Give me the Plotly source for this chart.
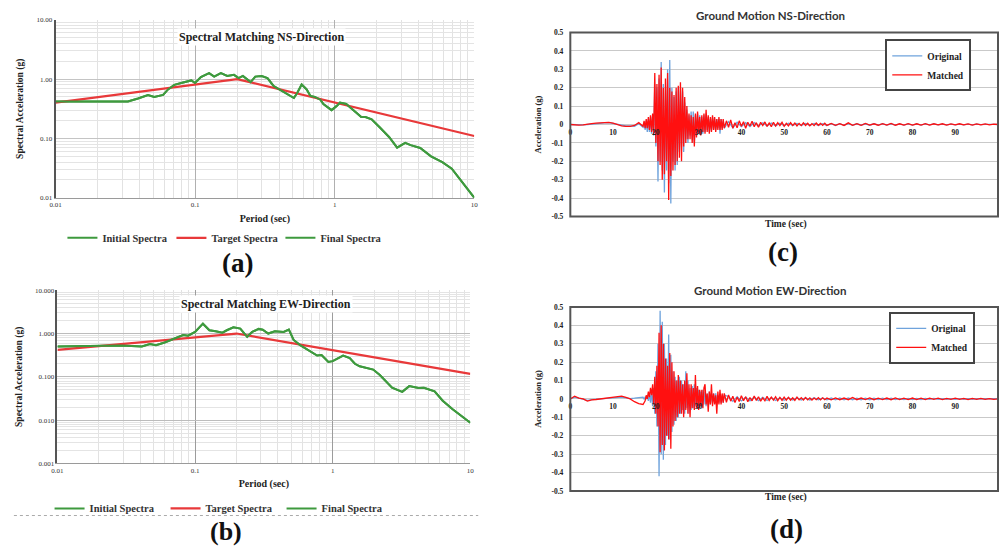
import numpy as np
import plotly.graph_objects as go

# ---------------- data: response spectra ----------------
NS_PERIOD = [0.01, 0.0215, 0.028, 0.033, 0.039, 0.046, 0.051, 0.059, 0.064, 0.071, 0.0795, 0.094, 0.1,
             0.11, 0.126, 0.137, 0.153, 0.17, 0.19, 0.205, 0.22, 0.25, 0.27, 0.30, 0.33, 0.366, 0.41,
             0.45, 0.51, 0.54, 0.58, 0.63, 0.67, 0.72, 0.79, 0.83, 0.95, 1.03, 1.09, 1.21, 1.33, 1.55,
             1.66, 1.84, 2.1, 2.46, 2.8, 3.2, 3.5, 4.1, 4.9, 5.9, 6.9, 8.2, 10.0]
NS_FINAL = [0.42, 0.42, 0.43, 0.42, 0.47, 0.54, 0.50, 0.54, 0.67, 0.80, 0.86, 0.95, 0.86,
            1.08, 1.26, 1.10, 1.26, 1.13, 1.18, 1.04, 1.13, 0.89, 1.10, 1.13, 1.04, 0.76, 0.65,
            0.57, 0.48, 0.59, 0.81, 0.67, 0.52, 0.50, 0.45, 0.38, 0.30, 0.35, 0.40, 0.38, 0.31, 0.23,
            0.23, 0.21, 0.154, 0.105, 0.070, 0.084, 0.077, 0.069, 0.050, 0.040, 0.031, 0.018, 0.010]
NS_TARGET_PERIOD = [0.01, 0.2, 10.0]
NS_TARGET = [0.40, 1.0, 0.11]

EW_PERIOD = [0.01, 0.0169, 0.0223, 0.029, 0.041, 0.047, 0.052, 0.060, 0.071, 0.082, 0.089, 0.1,
             0.114, 0.127, 0.141, 0.158, 0.17, 0.19, 0.213, 0.239, 0.26, 0.29, 0.31, 0.34, 0.38,
             0.44, 0.48, 0.52, 0.58, 0.63, 0.68, 0.77, 0.83, 0.93, 1.0, 1.09, 1.19, 1.33, 1.45,
             1.57, 1.75, 1.97, 2.2, 2.7, 3.2, 3.6, 4.2, 4.6, 5.5, 6.3, 7.4, 10.0]
EW_FINAL = [0.50, 0.52, 0.54, 0.53, 0.50, 0.57, 0.54, 0.62, 0.77, 0.92, 0.89, 1.09,
            1.69, 1.19, 1.13, 1.05, 1.19, 1.39, 1.30, 0.84, 1.09, 1.28, 1.23, 1.00, 1.13,
            1.09, 1.23, 0.71, 0.54, 0.46, 0.40, 0.31, 0.32, 0.22, 0.23, 0.27, 0.31, 0.27, 0.20,
            0.175, 0.16, 0.147, 0.11, 0.056, 0.045, 0.061, 0.055, 0.056, 0.046, 0.028, 0.018, 0.0087]
EW_TARGET_PERIOD = [0.01, 0.2, 10.0]
EW_TARGET = [0.42, 1.0, 0.117]

# ---------------- data: ground motion time histories ----------------
# Each record is sampled in segments: A = 0..17 s every 1 s, B = 17.25..36 s every 0.25 s,
# then the coda: matched records 36.5..60 s every 0.5 s and 61..100 s every 1 s,
# original records 37..100 s every 1 s.
NS_MATCHED_A = [0, -0.003, -0.003, -0.002, 0, 0.005, 0.008, 0.010, 0.010, 0.012, 0.008, 0,
                -0.008, -0.010, -0.010, -0.005, 0.010, -0.010]
NS_MATCHED_B = [0.02, -0.02, 0.03, -0.02, 0.04, -0.03, 0.05, -0.04, 0.06, -0.05,
                0.28, -0.10, 0.22, -0.20, 0.27, -0.22, 0.31, -0.30, 0.20, -0.27,
                0.25, -0.20, 0.28, -0.41, 0.20, -0.28, 0.18, -0.25, 0.16, -0.22,
                0.20, -0.20, 0.21, -0.18, 0.23, -0.20, 0.20, -0.12, 0.15, -0.10,
                0.10, -0.08, 0.06, -0.08, 0.05, -0.10, 0.04, -0.12, 0.06, -0.07,
                0.07, -0.05, 0.04, -0.06, 0.05, -0.04, 0.06, -0.05, 0.08, -0.04,
                0.05, -0.05, 0.04, -0.04, 0.05, -0.03, 0.04, -0.04, 0.03, -0.03,
                0.04, -0.03, 0.03, -0.03, 0.03, -0.02]
NS_MATCHED_C = [0.020, -0.015, 0.025, -0.020, 0.010, -0.018, 0.020, -0.010, 0.015, -0.020,
                0.012, -0.008, 0.018, -0.012, 0.010, -0.015, 0.012, -0.006, 0.014, -0.010,
                0.008, -0.012, 0.012, -0.008, 0.010, -0.006, 0.012, -0.010, 0.006, -0.008,
                0.010, -0.005, 0.008, -0.008, 0.006, -0.006, 0.009, -0.005, 0.007, -0.007,
                0.005, -0.006, 0.008, -0.004, 0.006, -0.005, 0.007, -0.005]
NS_MATCHED_D = [0.006, -0.004, 0.005, -0.005, 0.009, -0.004, 0.005, -0.004, 0.006, -0.003,
                0.004, -0.004, 0.005, -0.003, 0.006, -0.004, 0.004, -0.003, 0.005, -0.003,
                0.004, -0.003, 0.005, -0.003, 0.004, -0.002, 0.004, -0.003, 0.003, -0.002,
                0.004, -0.002, 0.003, -0.003, 0.003, -0.002, 0.003, -0.002, 0.002, 0]
NS_ORIGINAL_A = [0, -0.002, -0.003, -0.002, 0, 0.003, 0.006, 0.008, 0.009, 0.010, 0.006, -0.002,
                 -0.006, -0.008, -0.008, -0.010, 0.005, -0.015]
NS_ORIGINAL_B = [0.01, -0.03, 0.02, -0.04, 0.03, -0.04, 0.04, -0.05, 0.05, -0.06,
                 0.22, -0.12, 0.20, -0.31, 0.25, -0.20, 0.34, -0.25, 0.22, -0.37,
                 0.20, -0.25, 0.30, -0.32, 0.35, -0.43, 0.20, -0.20, 0.15, -0.25,
                 0.18, -0.22, 0.20, -0.15, 0.20, -0.12, 0.18, -0.15, 0.12, -0.08,
                 0.08, -0.10, 0.05, -0.06, 0.07, -0.08, 0.07, -0.10, 0.05, -0.06,
                 0.06, -0.05, 0.05, -0.04, 0.04, -0.05, 0.05, -0.04, 0.06, -0.03,
                 0.04, -0.04, 0.03, -0.03, 0.04, -0.03, 0.03, -0.03, 0.03, -0.02,
                 0.03, -0.05, 0.03, -0.02, 0.02, -0.02]
NS_ORIGINAL_C = [0.015, -0.018, 0.012, -0.012, 0.010, -0.011, 0.010, -0.009, 0.009, -0.008,
                 0.008, -0.008, 0.007, -0.007, 0.007, -0.006, 0.006, -0.006, 0.006, -0.006,
                 0.006, -0.005, 0.005, -0.005, 0.005, -0.005, 0.005, -0.004, 0.005, -0.004,
                 0.004, -0.004, 0.004, -0.004, 0.004, -0.003, 0.004, -0.003, 0.004, -0.003,
                 0.003, -0.003, 0.003, -0.003, 0.003, -0.003, 0.003, -0.002, 0.003, -0.002,
                 0.002, -0.002, 0.002, -0.002, 0.002, -0.002, 0.002, -0.002, 0.002, -0.001,
                 0.001, -0.001, 0.001, 0]

EW_MATCHED_A = [0, 0.015, 0.005, 0, -0.012, -0.005, -0.003, 0, 0.005, 0.010, 0.012, 0.015,
                0.015, 0.008, 0, -0.015, -0.025, -0.030]
EW_MATCHED_B = [-0.02, -0.01, 0.02, 0.00, 0.04, 0.01, 0.06, 0.02, 0.08, -0.03,
                0.12, -0.08, 0.18, -0.15, 0.36, -0.29, 0.40, -0.25, 0.30, -0.28,
                0.22, -0.20, 0.18, -0.22, 0.25, -0.27, 0.20, -0.15, 0.15, -0.12,
                0.10, -0.10, 0.13, -0.08, 0.10, -0.08, 0.08, -0.10, 0.10, -0.06,
                0.14, -0.08, 0.08, -0.10, 0.08, -0.05, 0.06, -0.06, 0.13, -0.05,
                0.07, -0.06, 0.05, -0.04, 0.05, -0.05, 0.06, 0.08, -0.03, 0.03,
                -0.07, 0.04, -0.03, 0.08, -0.04, 0.03, -0.03, 0.02, -0.08, 0.04,
                -0.03, 0.05, -0.03, 0.03, -0.02, 0.03]
EW_MATCHED_C = [-0.018, 0.022, -0.012, 0.015, -0.020, 0.010, -0.014, 0.018, -0.010, 0.012,
                -0.015, 0.008, -0.010, 0.016, -0.008, 0.012, -0.012, 0.006, -0.010, 0.014,
                -0.008, 0.010, -0.006, 0.012, -0.010, 0.008, -0.008, 0.010, -0.006, 0.009,
                -0.007, 0.006, -0.008, 0.010, -0.005, 0.007, -0.006, 0.008, -0.005, 0.006,
                -0.006, 0.005, -0.004, 0.007, -0.005, 0.006, -0.004, 0.005]
EW_MATCHED_D = [-0.005, 0.006, -0.004, 0.005, -0.004, 0.008, -0.004, 0.005, -0.003, 0.006,
                -0.004, 0.004, -0.003, 0.005, -0.004, 0.006, -0.003, 0.004, -0.003, 0.005,
                -0.003, 0.004, -0.003, 0.004, -0.002, 0.004, -0.003, 0.003, -0.002, 0.004,
                -0.002, 0.003, -0.003, 0.003, -0.002, 0.003, -0.002, 0.002, -0.002, 0]
EW_ORIGINAL_A = [0, 0.010, 0.004, 0, -0.008, -0.004, -0.002, 0, 0.003, 0.006, 0.008, 0.010,
                 0.010, 0.006, 0.002, 0.004, 0.008, 0.010]
EW_ORIGINAL_B = [0.00, 0.01, 0.00, 0.02, -0.01, 0.03, -0.02, 0.04, -0.04, 0.06,
                 -0.08, 0.15, -0.15, 0.30, -0.42, 0.48, -0.30, 0.42, -0.33, 0.30,
                 -0.25, 0.22, -0.20, 0.35, -0.22, 0.24, -0.18, 0.15, -0.14, 0.12,
                 -0.12, 0.10, -0.10, 0.12, -0.08, 0.10, -0.06, 0.08, -0.08, 0.15,
                 -0.05, 0.10, -0.08, 0.06, -0.06, 0.07, -0.05, 0.08, -0.04, 0.06,
                 -0.05, 0.05, -0.05, 0.04, -0.04, 0.05, -0.03, 0.04, -0.04, 0.03,
                 -0.03, 0.04, -0.03, 0.03, -0.02, 0.03, -0.02, 0.03, -0.02, 0.02,
                 -0.02, 0.02, -0.02, 0.02, -0.02, 0.02]
EW_ORIGINAL_C = [0.014, -0.013, 0.012, -0.011, 0.010, -0.010, 0.010, -0.009, 0.009, -0.008,
                 0.008, -0.008, 0.007, -0.007, 0.007, -0.006, 0.006, -0.006, 0.006, -0.006,
                 0.006, -0.005, 0.005, -0.005, 0.005, -0.005, 0.005, -0.004, 0.005, -0.004,
                 0.004, -0.004, 0.004, -0.004, 0.004, -0.003, 0.004, -0.003, 0.004, -0.003,
                 0.003, -0.003, 0.003, -0.003, 0.003, -0.003, 0.003, -0.002, 0.003, -0.002,
                 0.002, -0.002, 0.002, -0.002, 0.002, -0.002, 0.002, -0.002, 0.002, -0.001,
                 0.001, -0.001, 0.001, 0]

SPEC_XTICKS = [0.01, 0.1, 1, 10]
SPEC_XTICKTEXT = ["0.01", "0.1", "1", "10"]
NS_YTICKS = [0.01, 0.1, 1, 10]
NS_YTICKTEXT = ["0.01", "0.10", "1.00", "10.00"]
EW_YTICKS = [0.001, 0.01, 0.1, 1, 10]
EW_YTICKTEXT = ["0.001", "0.010", "0.100", "1.000", "10.000"]
ACC_TICKS = [0.5, 0.4, 0.3, 0.2, 0.1, 0, -0.1, -0.2, -0.3, -0.4, -0.5]
ACC_TICKTEXT = ["0.5", "0.4", "0.3", "0.2", "0.1", "0", "-0.1", "-0.2", "-0.3", "-0.4", "-0.5"]
TIME_TICKS = [0, 10, 20, 30, 40, 50, 60, 70, 80, 90, 100]


def build_series(segments):
    """segments: list of (start time, sampling step, values)"""
    ts, vs = [], []
    for start, step, vals in segments:
        ts += [start + step * i for i in range(len(vals))]
        vs += list(vals)
    return ts, vs


def minor_vals(lo_exp, hi_exp):
    vals = []
    for e in range(lo_exp, hi_exp):
        for m in range(2, 10):
            vals.append(m * 10.0 ** e)
    return vals


W, H = 1002, 552
def px(x):
    return x / W
def py(y):
    return 1 - y / H

SERIF = "Liberation Serif, Times New Roman, serif"
SANS = "Lato, Open Sans, sans-serif"
GREEN = "#3e9a3e"
TRED = "#e8393a"
BLUE = "#6fa3dc"
RED = "#ff1010"

fig = go.Figure()

# ---- spectra traces ----
for (per, fin, tper, targ, xa, ya, lg) in [
    (NS_PERIOD, NS_FINAL, NS_TARGET_PERIOD, NS_TARGET, "x", "y", "legend"),
    (EW_PERIOD, EW_FINAL, EW_TARGET_PERIOD, EW_TARGET, "x2", "y2", "legend2"),
]:
    fig.add_trace(go.Scatter(x=per, y=fin, mode="lines", name="Initial Spectra",
                             line=dict(color=GREEN, width=2), xaxis=xa, yaxis=ya, legend=lg))
    fig.add_trace(go.Scatter(x=tper, y=targ, mode="lines", name="Target Spectra",
                             line=dict(color=TRED, width=2.2), xaxis=xa, yaxis=ya, legend=lg))
    fig.add_trace(go.Scatter(x=per, y=fin, mode="lines", name="Final Spectra",
                             line=dict(color=GREEN, width=2), xaxis=xa, yaxis=ya, legend=lg))

# ---- time history traces ----
records = [
    ([(0, 1, NS_ORIGINAL_A), (17.25, 0.25, NS_ORIGINAL_B), (37, 1, NS_ORIGINAL_C)],
     [(0, 1, NS_MATCHED_A), (17.25, 0.25, NS_MATCHED_B), (36.5, 0.5, NS_MATCHED_C), (61, 1, NS_MATCHED_D)],
     "x3", "y3", "legend3"),
    ([(0, 1, EW_ORIGINAL_A), (17.25, 0.25, EW_ORIGINAL_B), (37, 1, EW_ORIGINAL_C)],
     [(0, 1, EW_MATCHED_A), (17.25, 0.25, EW_MATCHED_B), (36.5, 0.5, EW_MATCHED_C), (61, 1, EW_MATCHED_D)],
     "x4", "y4", "legend4"),
]
for orig, match, xa, ya, lg in records:
    t, v = build_series(orig)
    fig.add_trace(go.Scatter(x=t, y=v, mode="lines", name="Original",
                             line=dict(color=BLUE, width=1.3), xaxis=xa, yaxis=ya, legend=lg))
    t, v = build_series(match)
    fig.add_trace(go.Scatter(x=t, y=v, mode="lines", name="Matched",
                             line=dict(color=RED, width=1.3), xaxis=xa, yaxis=ya, legend=lg))

tickfont_small = dict(family=SERIF, size=7, color="#333")
axtitle_font = dict(family=SERIF, size=10, color="#222", weight="bold")


def spec_x(domain, major_color):
    return dict(domain=domain, type="log", range=[-2, 1], tickvals=SPEC_XTICKS, ticktext=SPEC_XTICKTEXT,
                tickfont=tickfont_small, showgrid=True, gridcolor=major_color, gridwidth=1,
                minor=dict(tickvals=minor_vals(-2, 1), showgrid=True, gridcolor="#e2e2e2", gridwidth=1),
                showline=True, linecolor="#9a9a9a", linewidth=1, ticks="", zeroline=False,
                title=dict(text="Period (sec)", font=axtitle_font, standoff=6))


def spec_y(domain, lo, ticks, text, major_color):
    return dict(domain=domain, type="log", range=[lo, 1], tickvals=ticks, ticktext=text,
                tickfont=tickfont_small, showgrid=True, gridcolor=major_color, gridwidth=1,
                minor=dict(tickvals=minor_vals(lo, 1), showgrid=True, gridcolor="#e4e4e4", gridwidth=1),
                showline=True, linecolor="#555", linewidth=1.5, ticks="", zeroline=False,
                title=dict(text="Spectral Acceleration (g)",
                           font=dict(family=SERIF, size=9.5, color="#222", weight="bold"), standoff=11))


def time_x(domain, ydomain):
    return dict(domain=domain, range=[0, 100], tickvals=TIME_TICKS, anchor="free",
                position=(ydomain[0] + ydomain[1]) / 2,
                tickfont=dict(family=SERIF, size=7.5, color="#222", weight="bold"),
                showgrid=False, zeroline=False, showline=False, ticks="", ticklabelstandoff=2,
                layer="above traces")


def time_y(domain):
    return dict(domain=domain, range=[-0.5, 0.5], tickvals=ACC_TICKS, ticktext=ACC_TICKTEXT,
                tickfont=dict(family=SERIF, size=7.5, color="#222", weight="bold"), showgrid=True,
                gridcolor="#c9c9c9", gridwidth=1.2, zeroline=False, showline=False, ticks="",
                ticklabelstandoff=6,
                title=dict(text="Acceleration (g)", font=dict(family=SERIF, size=8.5, color="#222", weight="bold"),
                           standoff=8))


a_xd = [px(50), px(473)]; a_yd = [py(197), py(16)]
b_xd = [px(52), px(469)]; b_yd = [py(467), py(291)]
c_xd = [px(570), 1.0]; c_yd = [py(216), py(29)]
d_xd = [px(570), 1.0]; d_yd = [py(495), py(308)]

fig.update_layout(
    width=W, height=H, margin=dict(l=0, r=0, t=0, b=0),
    paper_bgcolor="white", plot_bgcolor="white", showlegend=True,
    xaxis=dict(spec_x(a_xd, "#b0b0b0"), anchor="y"),
    yaxis=dict(spec_y(a_yd, -2, NS_YTICKS, NS_YTICKTEXT, "#c4c4c4"), anchor="x"),
    xaxis2=dict(spec_x(b_xd, "#9c9c9c"), anchor="y2"),
    yaxis2=dict(spec_y(b_yd, -3, EW_YTICKS, EW_YTICKTEXT, "#bcbcbc"), anchor="x2"),
    xaxis3=time_x(c_xd, c_yd),
    yaxis3=dict(time_y(c_yd), anchor="x3"),
    xaxis4=time_x(d_xd, d_yd),
    yaxis4=dict(time_y(d_yd), anchor="x4"),
)

legfont = dict(family=SERIF, size=10.5, color="#333", weight="bold")
tlegfont = dict(family=SERIF, size=9.5, color="#222", weight="bold")
fig.update_layout(
    legend=dict(orientation="h", x=px(57), y=py(223), xanchor="left", yanchor="top",
                font=legfont, entrywidth=64, bgcolor="rgba(0,0,0,0)", itemwidth=30),
    legend2=dict(orientation="h", x=px(44), y=py(498), xanchor="left", yanchor="top",
                 font=legfont, entrywidth=71, bgcolor="rgba(0,0,0,0)", itemwidth=30),
    legend3=dict(x=px(975), y=py(36), xanchor="right", yanchor="top", font=tlegfont,
                 bordercolor="#444", borderwidth=2, bgcolor="white", itemwidth=30, tracegroupgap=0),
    legend4=dict(x=px(979), y=py(313), xanchor="right", yanchor="top", font=tlegfont,
                 bordercolor="#444", borderwidth=2, bgcolor="white", itemwidth=30, tracegroupgap=0),
)

# frames around time-history plots
for xr, yr in [("x3 domain", "y3 domain"), ("x4 domain", "y4 domain")]:
    fig.add_shape(type="rect", xref=xr, yref=yr, x0=0, x1=1, y0=0, y1=1,
                  line=dict(color="#555", width=2), fillcolor="rgba(0,0,0,0)", layer="above")

# separator line under panel (b)
fig.add_shape(type="line", xref="paper", yref="paper", x0=px(8), x1=px(477), y0=py(520), y1=py(520),
              line=dict(color="#aaa", width=1, dash="dot"))

ann = [
    dict(text="<b>Spectral Matching NS-Direction</b>", x=px(258), y=py(34),
         font=dict(family=SERIF, size=12, color="#222"), bgcolor="white"),
    dict(text="<b>Spectral Matching EW-Direction</b>", x=px(263), y=py(305),
         font=dict(family=SERIF, size=12, color="#222"), bgcolor="white"),
    dict(text="<b>Ground Motion NS-Direction</b>", x=px(772), y=py(12),
         font=dict(family=SANS, size=11.5, color="#333")),
    dict(text="<b>Ground Motion EW-Direction</b>", x=px(772), y=py(291),
         font=dict(family=SANS, size=11.5, color="#333")),
    dict(text="<b>Time (sec)</b>", x=px(788), y=py(224), font=dict(family=SERIF, size=9.5, color="#222")),
    dict(text="<b>Time (sec)</b>", x=px(788), y=py(502), font=dict(family=SERIF, size=9.5, color="#222")),
    dict(text="<b>(a)</b>", x=px(234), y=py(263), font=dict(family=SERIF, size=27, color="#111")),
    dict(text="<b>(b)</b>", x=px(222), y=py(536), font=dict(family=SERIF, size=26, color="#111")),
    dict(text="<b>(c)</b>", x=px(785), y=py(252), font=dict(family=SERIF, size=27, color="#111")),
    dict(text="<b>(d)</b>", x=px(788), y=py(534), font=dict(family=SERIF, size=27, color="#111")),
]
for a in ann:
    fig.add_annotation(xref="paper", yref="paper", showarrow=False, xanchor="center", yanchor="middle", **a)

fig.write_html("out.html", config={"displayModeBar": False},
               post_script="document.body.style.margin='0px';")
